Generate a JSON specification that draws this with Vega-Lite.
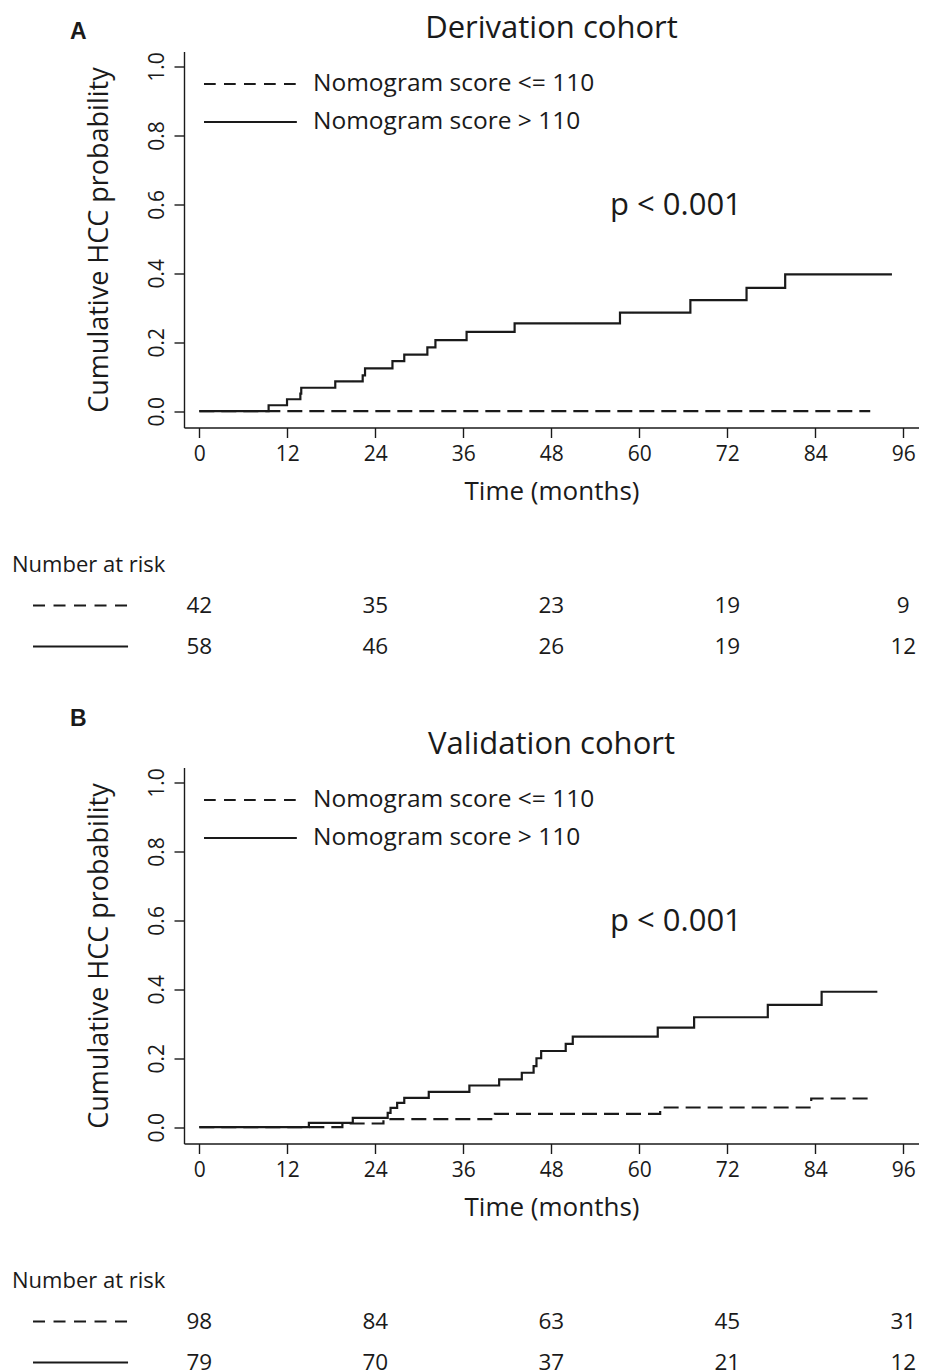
{
  "$schema": "https://vega.github.io/schema/vega-lite/v6.json",
  "background": "white",
  "padding": {"left": 12, "top": 12.5, "right": 0, "bottom": 0},
  "spacing": 40,
  "config": {
    "font": "Open Sans",
    "view": {"stroke": null},
    "text": {"font": "Open Sans", "color": "#1a1a1a"},
    "rule": {"color": "#1a1a1a"},
    "axis": {
      "grid": false,
      "domainColor": "#1a1a1a",
      "tickColor": "#1a1a1a",
      "labelColor": "#1a1a1a",
      "titleColor": "#1a1a1a",
      "domainWidth": 1.4,
      "tickWidth": 1.4,
      "tickSize": 10,
      "labelFont": "Open Sans",
      "titleFont": "Open Sans",
      "titleFontWeight": "normal",
      "labelFlush": false
    }
  },
  "datasets": {
    "km": [
      {"cohort": "Derivation", "group": "> 110", "time": 0, "prob": 0},
      {"cohort": "Derivation", "group": "> 110", "time": 9.45, "prob": 0.0173},
      {"cohort": "Derivation", "group": "> 110", "time": 11.96, "prob": 0.0347},
      {"cohort": "Derivation", "group": "> 110", "time": 13.78, "prob": 0.051},
      {"cohort": "Derivation", "group": "> 110", "time": 13.9, "prob": 0.068},
      {"cohort": "Derivation", "group": "> 110", "time": 18.54, "prob": 0.0866},
      {"cohort": "Derivation", "group": "> 110", "time": 22.28, "prob": 0.104},
      {"cohort": "Derivation", "group": "> 110", "time": 22.6, "prob": 0.124},
      {"cohort": "Derivation", "group": "> 110", "time": 26.34, "prob": 0.145},
      {"cohort": "Derivation", "group": "> 110", "time": 27.95, "prob": 0.164},
      {"cohort": "Derivation", "group": "> 110", "time": 31.1, "prob": 0.185},
      {"cohort": "Derivation", "group": "> 110", "time": 32.2, "prob": 0.206},
      {"cohort": "Derivation", "group": "> 110", "time": 36.45, "prob": 0.23},
      {"cohort": "Derivation", "group": "> 110", "time": 43.0, "prob": 0.255},
      {"cohort": "Derivation", "group": "> 110", "time": 57.37, "prob": 0.286},
      {"cohort": "Derivation", "group": "> 110", "time": 66.97, "prob": 0.322},
      {"cohort": "Derivation", "group": "> 110", "time": 74.63, "prob": 0.358},
      {"cohort": "Derivation", "group": "> 110", "time": 79.9, "prob": 0.397},
      {"cohort": "Derivation", "group": "> 110", "time": 94.46, "prob": 0.397},
      {"cohort": "Derivation", "group": "<= 110", "time": 0, "prob": 0},
      {"cohort": "Derivation", "group": "<= 110", "time": 91.5, "prob": 0},
      {"cohort": "Validation", "group": "> 110", "time": 0, "prob": 0},
      {"cohort": "Validation", "group": "> 110", "time": 14.94, "prob": 0.0126},
      {"cohort": "Validation", "group": "> 110", "time": 20.93, "prob": 0.0271},
      {"cohort": "Validation", "group": "> 110", "time": 25.69, "prob": 0.0416},
      {"cohort": "Validation", "group": "> 110", "time": 26.08, "prob": 0.0562},
      {"cohort": "Validation", "group": "> 110", "time": 26.98, "prob": 0.0707},
      {"cohort": "Validation", "group": "> 110", "time": 27.95, "prob": 0.0852},
      {"cohort": "Validation", "group": "> 110", "time": 31.29, "prob": 0.1027},
      {"cohort": "Validation", "group": "> 110", "time": 36.83, "prob": 0.121},
      {"cohort": "Validation", "group": "> 110", "time": 40.89, "prob": 0.139},
      {"cohort": "Validation", "group": "> 110", "time": 43.98, "prob": 0.158},
      {"cohort": "Validation", "group": "> 110", "time": 45.59, "prob": 0.177},
      {"cohort": "Validation", "group": "> 110", "time": 45.98, "prob": 0.2},
      {"cohort": "Validation", "group": "> 110", "time": 46.62, "prob": 0.221},
      {"cohort": "Validation", "group": "> 110", "time": 49.97, "prob": 0.242},
      {"cohort": "Validation", "group": "> 110", "time": 50.93, "prob": 0.263},
      {"cohort": "Validation", "group": "> 110", "time": 62.52, "prob": 0.289},
      {"cohort": "Validation", "group": "> 110", "time": 67.48, "prob": 0.319},
      {"cohort": "Validation", "group": "> 110", "time": 77.53, "prob": 0.355},
      {"cohort": "Validation", "group": "> 110", "time": 84.87, "prob": 0.393},
      {"cohort": "Validation", "group": "> 110", "time": 92.47, "prob": 0.393},
      {"cohort": "Validation", "group": "<= 110", "time": 0, "prob": 0},
      {"cohort": "Validation", "group": "<= 110", "time": 19.51, "prob": 0.0107},
      {"cohort": "Validation", "group": "<= 110", "time": 25.11, "prob": 0.0232},
      {"cohort": "Validation", "group": "<= 110", "time": 40.31, "prob": 0.0387},
      {"cohort": "Validation", "group": "<= 110", "time": 62.85, "prob": 0.0571},
      {"cohort": "Validation", "group": "<= 110", "time": 83.45, "prob": 0.0833},
      {"cohort": "Validation", "group": "<= 110", "time": 92.08, "prob": 0.0833}
    ],
    "risk": [
      {"cohort": "Derivation", "group": "<= 110", "time": 0, "n": 42},
      {"cohort": "Derivation", "group": "<= 110", "time": 24, "n": 35},
      {"cohort": "Derivation", "group": "<= 110", "time": 48, "n": 23},
      {"cohort": "Derivation", "group": "<= 110", "time": 72, "n": 19},
      {"cohort": "Derivation", "group": "<= 110", "time": 96, "n": 9},
      {"cohort": "Derivation", "group": "> 110", "time": 0, "n": 58},
      {"cohort": "Derivation", "group": "> 110", "time": 24, "n": 46},
      {"cohort": "Derivation", "group": "> 110", "time": 48, "n": 26},
      {"cohort": "Derivation", "group": "> 110", "time": 72, "n": 19},
      {"cohort": "Derivation", "group": "> 110", "time": 96, "n": 12},
      {"cohort": "Validation", "group": "<= 110", "time": 0, "n": 98},
      {"cohort": "Validation", "group": "<= 110", "time": 24, "n": 84},
      {"cohort": "Validation", "group": "<= 110", "time": 48, "n": 63},
      {"cohort": "Validation", "group": "<= 110", "time": 72, "n": 45},
      {"cohort": "Validation", "group": "<= 110", "time": 96, "n": 31},
      {"cohort": "Validation", "group": "> 110", "time": 0, "n": 79},
      {"cohort": "Validation", "group": "> 110", "time": 24, "n": 70},
      {"cohort": "Validation", "group": "> 110", "time": 48, "n": 37},
      {"cohort": "Validation", "group": "> 110", "time": 72, "n": 21},
      {"cohort": "Validation", "group": "> 110", "time": 96, "n": 12}
    ]
  },
  "vconcat": [
    {
      "width": 735,
      "height": 376,
      "layer": [
        {
          "data": {"name": "km"},
          "transform": [{"filter": "datum.cohort == 'Derivation'"}],
          "mark": {"type": "line", "interpolate": "step-after", "strokeWidth": 2.2, "color": "#1a1a1a"},
          "encoding": {
            "x": {"field": "time", "type": "quantitative",
              "scale": {"domain": [-2.09, 98.15], "nice": false, "zero": false},
              "axis": {"values": [0, 12, 24, 36, 48, 60, 72, 84, 96], "title": "Time (months)", "titleFontSize": 26, "labelFontSize": 21, "labelPadding": 6, "titlePadding": 14}},
            "y": {"field": "prob", "type": "quantitative",
              "scale": {"domain": [-0.0473, 1.0435], "nice": false, "zero": false},
              "axis": {"values": [0, 0.2, 0.4, 0.6, 0.8, 1.0], "format": ".1f", "title": "Cumulative HCC probability", "titleFontSize": 27, "labelFontSize": 21, "labelAngle": 270, "labelAlign": "center", "labelBaseline": "alphabetic", "labelPadding": 11, "titlePadding": 33}},
            "strokeDash": {"field": "group", "type": "nominal", "scale": {"domain": ["<= 110", "> 110"], "range": [[15, 7], [1, 0]]}, "legend": null}
          }
        },
        {
          "data": {"values": [{"label": "Derivation cohort"}]},
          "mark": {"type": "text", "fontSize": 31, "align": "center", "baseline": "alphabetic"},
          "encoding": {"x": {"datum": 48.03}, "y": {"datum": 1.0841}, "text": {"field": "label"}}
        },
        {
          "data": {"values": [{"label": "A"}]},
          "mark": {"type": "text", "font": "Liberation Sans", "fontWeight": "bold", "fontSize": 23, "align": "center", "baseline": "middle"},
          "encoding": {"x": {"datum": -16.5}, "y": {"datum": 1.101}, "text": {"field": "label"}}
        },
        {
          "data": {"values": [{"label": "p < 0.001"}]},
          "mark": {"type": "text", "fontSize": 31, "align": "center", "baseline": "middle"},
          "encoding": {"x": {"datum": 65.0}, "y": {"datum": 0.594}, "text": {"field": "label"}}
        },
        {
          "data": {"values": [{"label": "Nomogram score <= 110"}]},
          "mark": {"type": "rule", "strokeWidth": 2, "strokeDash": [11.7, 8.3]},
          "encoding": {"x": {"datum": 0.64}, "x2": {"datum": 13.3}, "y": {"datum": 0.949}}
        },
        {
          "data": {"values": [{"label": "Nomogram score > 110"}]},
          "mark": {"type": "rule", "strokeWidth": 2},
          "encoding": {"x": {"datum": 0.64}, "x2": {"datum": 13.3}, "y": {"datum": 0.839}}
        },
        {
          "data": {"values": [{"label": "Nomogram score <= 110"}]},
          "mark": {"type": "text", "fontSize": 24.5, "align": "left", "baseline": "middle"},
          "encoding": {"x": {"datum": 15.5}, "y": {"datum": 0.949}, "text": {"field": "label"}}
        },
        {
          "data": {"values": [{"label": "Nomogram score > 110"}]},
          "mark": {"type": "text", "fontSize": 24.5, "align": "left", "baseline": "middle"},
          "encoding": {"x": {"datum": 15.5}, "y": {"datum": 0.839}, "text": {"field": "label"}}
        }
      ]
    },
    {
      "width": 735,
      "height": 122.5,
      "layer": [
        {
          "data": {"name": "risk"},
          "transform": [{"filter": "datum.cohort == 'Derivation'"}],
          "mark": {"type": "text", "fontSize": 22.5, "align": "center", "baseline": "middle"},
          "encoding": {
            "x": {"field": "time", "type": "quantitative", "scale": {"domain": [-2.09, 98.15], "nice": false, "zero": false}, "axis": null},
            "y": {"field": "group", "type": "nominal", "scale": {"type": "point", "domain": ["Number at risk", "<= 110", "> 110"], "padding": 0.494, "align": 0.494}, "axis": null},
            "text": {"field": "n"}
          }
        },
        {
          "data": {"values": [{"label": "Number at risk"}]},
          "mark": {"type": "text", "fontSize": 22, "align": "left", "baseline": "middle"},
          "encoding": {"x": {"datum": -25.54}, "y": {"datum": "Number at risk"}, "text": {"field": "label"}}
        },
        {
          "data": {"values": [{"label": "<= 110"}]},
          "mark": {"type": "rule", "strokeWidth": 2, "strokeDash": [12, 8.5]},
          "encoding": {"x": {"datum": -22.68}, "x2": {"datum": -9.72}, "y": {"datum": "<= 110"}}
        },
        {
          "data": {"values": [{"label": "> 110"}]},
          "mark": {"type": "rule", "strokeWidth": 2},
          "encoding": {"x": {"datum": -22.68}, "x2": {"datum": -9.72}, "y": {"datum": "> 110"}}
        }
      ]
    },
    {
      "width": 735,
      "height": 376,
      "layer": [
        {
          "data": {"name": "km"},
          "transform": [{"filter": "datum.cohort == 'Validation'"}],
          "mark": {"type": "line", "interpolate": "step-after", "strokeWidth": 2.2, "color": "#1a1a1a"},
          "encoding": {
            "x": {"field": "time", "type": "quantitative",
              "scale": {"domain": [-2.09, 98.15], "nice": false, "zero": false},
              "axis": {"values": [0, 12, 24, 36, 48, 60, 72, 84, 96], "title": "Time (months)", "titleFontSize": 26, "labelFontSize": 21, "labelPadding": 6, "titlePadding": 14}},
            "y": {"field": "prob", "type": "quantitative",
              "scale": {"domain": [-0.0473, 1.0435], "nice": false, "zero": false},
              "axis": {"values": [0, 0.2, 0.4, 0.6, 0.8, 1.0], "format": ".1f", "title": "Cumulative HCC probability", "titleFontSize": 27, "labelFontSize": 21, "labelAngle": 270, "labelAlign": "center", "labelBaseline": "alphabetic", "labelPadding": 11, "titlePadding": 33}},
            "strokeDash": {"field": "group", "type": "nominal", "scale": {"domain": ["<= 110", "> 110"], "range": [[15, 7], [1, 0]]}, "legend": null}
          }
        },
        {
          "data": {"values": [{"label": "Validation cohort"}]},
          "mark": {"type": "text", "fontSize": 31, "align": "center", "baseline": "alphabetic"},
          "encoding": {"x": {"datum": 48.03}, "y": {"datum": 1.0841}, "text": {"field": "label"}}
        },
        {
          "data": {"values": [{"label": "B"}]},
          "mark": {"type": "text", "font": "Liberation Sans", "fontWeight": "bold", "fontSize": 23, "align": "center", "baseline": "middle"},
          "encoding": {"x": {"datum": -16.5}, "y": {"datum": 1.183}, "text": {"field": "label"}}
        },
        {
          "data": {"values": [{"label": "p < 0.001"}]},
          "mark": {"type": "text", "fontSize": 31, "align": "center", "baseline": "middle"},
          "encoding": {"x": {"datum": 65.0}, "y": {"datum": 0.594}, "text": {"field": "label"}}
        },
        {
          "data": {"values": [{"label": "Nomogram score <= 110"}]},
          "mark": {"type": "rule", "strokeWidth": 2, "strokeDash": [11.7, 8.3]},
          "encoding": {"x": {"datum": 0.64}, "x2": {"datum": 13.3}, "y": {"datum": 0.949}}
        },
        {
          "data": {"values": [{"label": "Nomogram score > 110"}]},
          "mark": {"type": "rule", "strokeWidth": 2},
          "encoding": {"x": {"datum": 0.64}, "x2": {"datum": 13.3}, "y": {"datum": 0.839}}
        },
        {
          "data": {"values": [{"label": "Nomogram score <= 110"}]},
          "mark": {"type": "text", "fontSize": 24.5, "align": "left", "baseline": "middle"},
          "encoding": {"x": {"datum": 15.5}, "y": {"datum": 0.949}, "text": {"field": "label"}}
        },
        {
          "data": {"values": [{"label": "Nomogram score > 110"}]},
          "mark": {"type": "text", "fontSize": 24.5, "align": "left", "baseline": "middle"},
          "encoding": {"x": {"datum": 15.5}, "y": {"datum": 0.839}, "text": {"field": "label"}}
        }
      ]
    },
    {
      "width": 735,
      "height": 122.5,
      "layer": [
        {
          "data": {"name": "risk"},
          "transform": [{"filter": "datum.cohort == 'Validation'"}],
          "mark": {"type": "text", "fontSize": 22.5, "align": "center", "baseline": "middle"},
          "encoding": {
            "x": {"field": "time", "type": "quantitative", "scale": {"domain": [-2.09, 98.15], "nice": false, "zero": false}, "axis": null},
            "y": {"field": "group", "type": "nominal", "scale": {"type": "point", "domain": ["Number at risk", "<= 110", "> 110"], "padding": 0.494, "align": 0.494}, "axis": null},
            "text": {"field": "n"}
          }
        },
        {
          "data": {"values": [{"label": "Number at risk"}]},
          "mark": {"type": "text", "fontSize": 22, "align": "left", "baseline": "middle"},
          "encoding": {"x": {"datum": -25.54}, "y": {"datum": "Number at risk"}, "text": {"field": "label"}}
        },
        {
          "data": {"values": [{"label": "<= 110"}]},
          "mark": {"type": "rule", "strokeWidth": 2, "strokeDash": [12, 8.5]},
          "encoding": {"x": {"datum": -22.68}, "x2": {"datum": -9.72}, "y": {"datum": "<= 110"}}
        },
        {
          "data": {"values": [{"label": "> 110"}]},
          "mark": {"type": "rule", "strokeWidth": 2},
          "encoding": {"x": {"datum": -22.68}, "x2": {"datum": -9.72}, "y": {"datum": "> 110"}}
        }
      ]
    }
  ]
}
